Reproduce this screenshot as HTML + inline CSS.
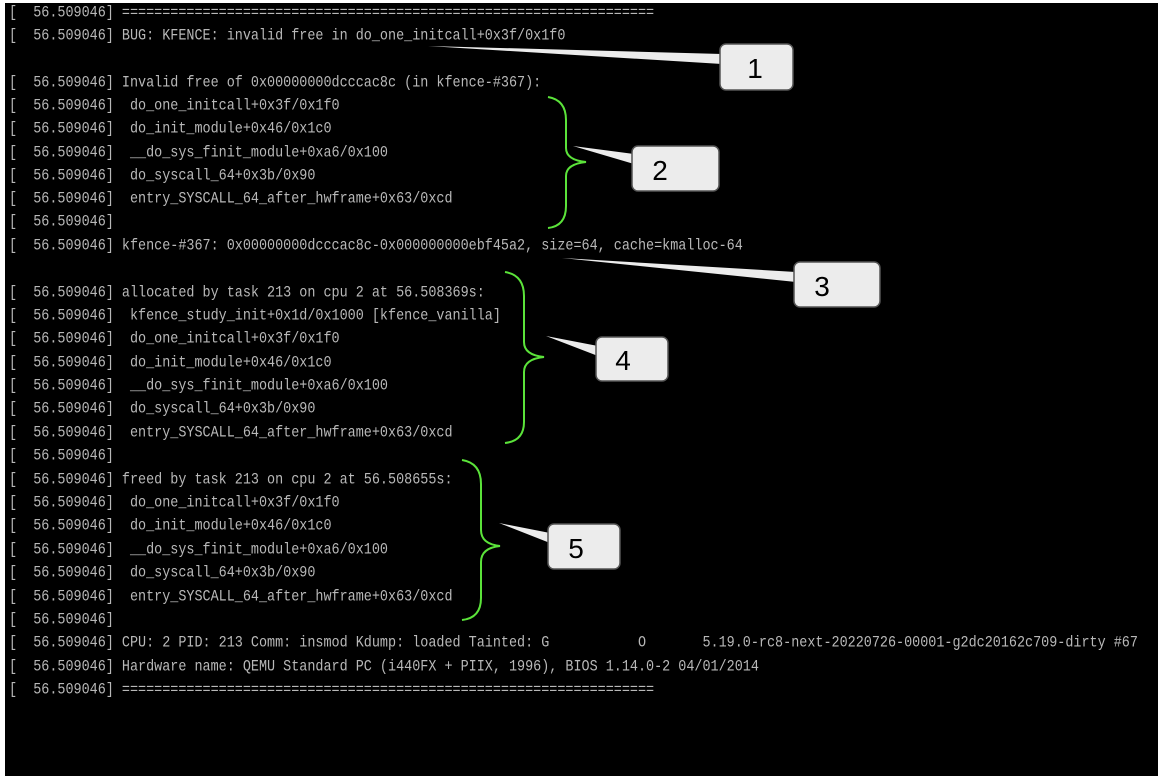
<!DOCTYPE html>
<html><head><meta charset="utf-8"><style>
html,body{margin:0;padding:0;background:#fff;}
#c{position:relative;width:1162px;height:776px;overflow:hidden;background:#fff;}
#bk{position:absolute;left:5px;top:3px;width:1153px;height:773px;background:#000;}
.l{position:absolute;left:9px;font-family:"Liberation Mono",monospace;font-size:13.45px;color:#b8b8b8;white-space:pre;transform:scaleY(1.15);transform-origin:left center;line-height:16px;margin-top:1px;}
svg{position:absolute;left:0;top:0;}
</style></head><body><div id="c"><div id="bk"></div>
<div class="l" style="top:5px">[  56.509046] ==================================================================</div>
<div class="l" style="top:28px">[  56.509046] BUG: KFENCE: invalid free in do_one_initcall+0x3f/0x1f0</div>
<div class="l" style="top:75px">[  56.509046] Invalid free of 0x00000000dcccac8c (in kfence-#367):</div>
<div class="l" style="top:98px">[  56.509046]  do_one_initcall+0x3f/0x1f0</div>
<div class="l" style="top:121px">[  56.509046]  do_init_module+0x46/0x1c0</div>
<div class="l" style="top:145px">[  56.509046]  __do_sys_finit_module+0xa6/0x100</div>
<div class="l" style="top:168px">[  56.509046]  do_syscall_64+0x3b/0x90</div>
<div class="l" style="top:191px">[  56.509046]  entry_SYSCALL_64_after_hwframe+0x63/0xcd</div>
<div class="l" style="top:214px">[  56.509046]</div>
<div class="l" style="top:238px">[  56.509046] kfence-#367: 0x00000000dcccac8c-0x000000000ebf45a2, size=64, cache=kmalloc-64</div>
<div class="l" style="top:285px">[  56.509046] allocated by task 213 on cpu 2 at 56.508369s:</div>
<div class="l" style="top:308px">[  56.509046]  kfence_study_init+0x1d/0x1000 [kfence_vanilla]</div>
<div class="l" style="top:331px">[  56.509046]  do_one_initcall+0x3f/0x1f0</div>
<div class="l" style="top:355px">[  56.509046]  do_init_module+0x46/0x1c0</div>
<div class="l" style="top:378px">[  56.509046]  __do_sys_finit_module+0xa6/0x100</div>
<div class="l" style="top:401px">[  56.509046]  do_syscall_64+0x3b/0x90</div>
<div class="l" style="top:425px">[  56.509046]  entry_SYSCALL_64_after_hwframe+0x63/0xcd</div>
<div class="l" style="top:448px">[  56.509046]</div>
<div class="l" style="top:472px">[  56.509046] freed by task 213 on cpu 2 at 56.508655s:</div>
<div class="l" style="top:495px">[  56.509046]  do_one_initcall+0x3f/0x1f0</div>
<div class="l" style="top:518px">[  56.509046]  do_init_module+0x46/0x1c0</div>
<div class="l" style="top:542px">[  56.509046]  __do_sys_finit_module+0xa6/0x100</div>
<div class="l" style="top:565px">[  56.509046]  do_syscall_64+0x3b/0x90</div>
<div class="l" style="top:589px">[  56.509046]  entry_SYSCALL_64_after_hwframe+0x63/0xcd</div>
<div class="l" style="top:612px">[  56.509046]</div>
<div class="l" style="top:635px">[  56.509046] CPU: 2 PID: 213 Comm: insmod Kdump: loaded Tainted: G           O       5.19.0-rc8-next-20220726-00001-g2dc20162c709-dirty #67</div>
<div class="l" style="top:659px">[  56.509046] Hardware name: QEMU Standard PC (i440FX + PIIX, 1996), BIOS 1.14.0-2 04/01/2014</div>
<div class="l" style="top:682px">[  56.509046] ==================================================================</div>
<svg width="1162" height="776">
<g fill="none" stroke="#5be33a" stroke-width="2">
<path d="M548,97 Q566,100 566,120 L566,148 Q566,160 586,162 Q566,164 566,176 L566,206 Q566,226 548,228"/>
<path d="M505,272 Q524,275 524,296 L524,342 Q524,355 544,357 Q524,359 524,372 L524,422 Q524,441 505,443"/>
<path d="M462,460 Q481,463 481,484 L481,530 Q481,544 500,546 Q481,548 481,562 L481,598 Q481,618 462,620"/>
</g>
<g fill="#ececec" stroke="#555" stroke-width="1.5">
<path d="M428,46 L722,54 L722,64 Z" stroke="none"/>
<path d="M573,146 L634,154 L634,164 Z" stroke="none"/>
<path d="M562,258 L796,272 L796,282 Z" stroke="none"/>
<path d="M546,336 L598,346 L598,356 Z" stroke="none"/>
<path d="M499,523 L550,533 L550,543 Z" stroke="none"/>
<rect x="720" y="44" width="73" height="46" rx="6"/>
<rect x="632" y="146" width="87" height="45" rx="6"/>
<rect x="794" y="262" width="86" height="45" rx="6"/>
<rect x="596" y="337" width="72" height="44" rx="6"/>
<rect x="548" y="524" width="72" height="45" rx="6"/>
</g>
<g font-family="Liberation Sans, sans-serif" font-size="28" fill="#000" text-anchor="middle">
<text x="755" y="78">1</text>
<text x="660" y="180">2</text>
<text x="822" y="296">3</text>
<text x="623" y="370">4</text>
<text x="576" y="558">5</text>
</g>
</svg>
</div></body></html>
